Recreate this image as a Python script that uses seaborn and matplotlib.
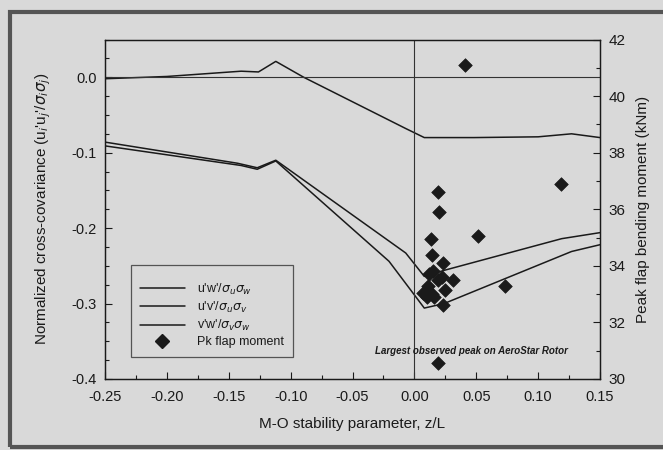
import numpy as np
import pandas as pd
import matplotlib
matplotlib.use("Agg")
import matplotlib.pyplot as plt
from matplotlib.patches import Rectangle
from matplotlib.lines import Line2D
from matplotlib.ticker import MultipleLocator
import seaborn as sns

# Cross-covariance curves vs. stability parameter z/L
zl_uw = [-0.25, -0.143, -0.127, -0.112, -0.007, 0.008, 0.024, 0.119, 0.15]
cov_uw = [-0.086, -0.114, -0.120, -0.110, -0.233, -0.264, -0.256, -0.214, -0.206]

zl_uv = [-0.25, -0.14, -0.127, -0.112, -0.0205, 0.008, 0.024, 0.127, 0.15]
cov_uv = [-0.091, -0.117, -0.122, -0.111, -0.244, -0.306, -0.300, -0.231, -0.222]

zl_vw = [-0.25, -0.20, -0.14, -0.126, -0.112, -0.0895, -0.007, 0.008, 0.048, 0.10, 0.127, 0.15]
cov_vw = [-0.002, 0.001, 0.008, 0.007, 0.021, 0.0, -0.068, -0.080, -0.080, -0.079, -0.075, -0.080]

# Peak flap bending moments (kNm)
pk_zl = [0.041, 0.0194, 0.020, 0.0137, 0.014, 0.0233, 0.0147, 0.012, 0.022, 0.0194,
         0.0315, 0.0112, 0.0248, 0.0073, 0.014, 0.010, 0.0159, 0.0234, 0.0517, 0.0735,
         0.1185, 0.0188]
pk_moment = [41.1, 36.6, 35.9, 34.95, 34.4, 34.1, 33.8, 33.7, 33.6, 33.5,
             33.5, 33.3, 33.15, 33.05, 33.0, 32.9, 32.9, 32.6, 35.05, 33.3,
             36.9, 30.55]

series_labels = [r"u'w'/$\sigma_u\sigma_w$", r"u'v'/$\sigma_u\sigma_v$", r"v'w'/$\sigma_v\sigma_w$"]
x_ticks = [-0.25, -0.20, -0.15, -0.10, -0.05, 0.00, 0.05, 0.10, 0.15]
left_ticks = [0.0, -0.1, -0.2, -0.3, -0.4]
right_ticks = [30, 32, 34, 36, 38, 40, 42]

sns.set_style("ticks")
plt.rcParams["font.family"] = ["Liberation Sans", "DejaVu Sans"]
plt.rcParams["mathtext.fontset"] = "dejavusans"

bg = "#d9d9d9"
ink = "#1a1a1a"
fig = plt.figure(figsize=(6.63, 4.5), dpi=100, facecolor=bg)
ax = fig.add_axes([0.1584, 0.1578, 0.7466, 0.7544])
ax.set_facecolor("none")

# outer frame of the panel
fig.patches.append(Rectangle((10 / 663, 3 / 450), 1.0, 435 / 450, transform=fig.transFigure,
                             fill=False, edgecolor="#555555", linewidth=3.0))

for xs, ys in [(zl_uw, cov_uw), (zl_uv, cov_uv), (zl_vw, cov_vw)]:
    df = pd.DataFrame({"zl": xs, "cov": ys})
    sns.lineplot(data=df, x="zl", y="cov", ax=ax, color=ink, linewidth=1.1,
                 estimator=None, sort=False)

ax.axhline(0.0, color="#333333", linewidth=0.8)
ax.axvline(0.0, color="#333333", linewidth=0.8)

ax.set_xlim(-0.25, 0.15)
ax.set_ylim(-0.4, 0.05)
ax.set_xticks(x_ticks)
ax.set_xticklabels([f"{v:.2f}" for v in x_ticks])
ax.set_yticks(left_ticks)
ax.set_yticklabels([f"{v:.1f}" for v in left_ticks])
ax.xaxis.set_minor_locator(MultipleLocator(0.025))
ax.yaxis.set_minor_locator(MultipleLocator(0.025))
ax.tick_params(which="both", direction="in", colors=ink, labelsize=10.5, width=0.8)
ax.tick_params(which="major", length=5)
ax.tick_params(which="minor", length=3)
ax.tick_params(axis="x", which="major", pad=8)
ax.tick_params(axis="y", which="major", pad=6)
ax.set_xlabel("M-O stability parameter, z/L", fontsize=11, color=ink, labelpad=9)
ax.set_ylabel(r"Normalized cross-covariance (u$_i$'u$_j$'/$\sigma_i\sigma_j$)",
              fontsize=11, color=ink, labelpad=13)
for s in ax.spines.values():
    s.set_color(ink)
    s.set_linewidth(0.9)

ax2 = ax.twinx()
sns.scatterplot(x=pk_zl, y=pk_moment, ax=ax2, marker="D", s=48, color=ink,
                edgecolor=ink, linewidth=0.5, zorder=5)
ax2.set_ylim(30, 42)
ax2.set_yticks(right_ticks)
ax2.yaxis.set_minor_locator(MultipleLocator(1))
ax2.tick_params(which="both", direction="in", colors=ink, labelsize=11, width=0.8)
ax2.tick_params(which="major", length=5, pad=6)
ax2.tick_params(which="minor", length=3)
ax2.set_ylabel("Peak flap bending moment (kNm)", fontsize=11, color=ink, labelpad=8)
for s in ax2.spines.values():
    s.set_color(ink)
    s.set_linewidth(0.9)

ax.text(0.046, -0.363, "Largest observed peak on AeroStar Rotor", fontsize=7,
        style="italic", fontweight="bold", color=ink, ha="center", va="center")

handles = [Line2D([], [], color=ink, linewidth=1.1) for _ in series_labels]
handles.append(Line2D([], [], color=ink, marker="D", linestyle="none", markersize=7))
leg = ax.legend(handles, series_labels + ["Pk flap moment"], title=" ",
                title_fontsize=4, loc="lower left", bbox_to_anchor=(0.0525, 0.065),
                borderaxespad=0.0, frameon=True, fancybox=False, edgecolor="#333333",
                facecolor="none", fontsize=9, handlelength=3.6, handletextpad=1.0,
                labelspacing=0.25, borderpad=0.7)
leg.get_frame().set_linewidth(0.9)
for t in leg.get_texts():
    t.set_color(ink)

fig.savefig("out.png", dpi=100, facecolor=bg)
